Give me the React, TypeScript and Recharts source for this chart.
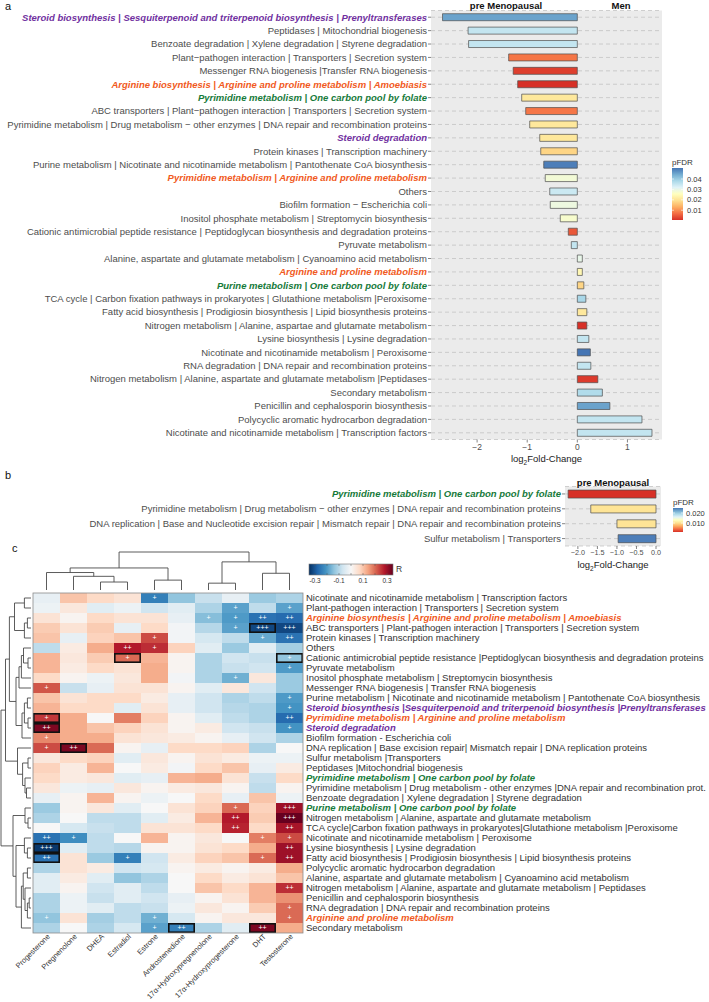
import React from 'react'
import { BarChart, Bar, XAxis, YAxis, CartesianGrid, Cell, ScatterChart, Scatter, Customized } from 'recharts'

const FONT = '"Liberation Sans", Arial, Helvetica, sans-serif'
const GROUP_COLOR: Record<string, string> = { steroid: '#7030a0', arginine: '#f15a22', folate: '#167a3a' }

// ---------- panel a : log2 fold change, pre menopausal vs men
const aPathways = [
  'Steroid biosynthesis | Sesquiterpenoid and triterpenoid biosynthesis | Prenyltransferases',
  'Peptidases | Mitochondrial biogenesis',
  'Benzoate degradation | Xylene degradation | Styrene degradation',
  'Plant−pathogen interaction | Transporters | Secretion system',
  'Messenger RNA biogenesis |Transfer RNA biogenesis',
  'Arginine biosynthesis | Arginine and proline metabolism | Amoebiasis',
  'Pyrimidine metabolism | One carbon pool by folate',
  'ABC transporters | Plant−pathogen interaction | Transporters | Secretion system',
  'Pyrimidine metabolism | Drug metabolism − other enzymes | DNA repair and recombination proteins',
  'Steroid degradation',
  'Protein kinases | Transcription machinery',
  'Purine metabolism | Nicotinate and nicotinamide metabolism | Pantothenate CoA biosynthesis',
  'Pyrimidine metabolism | Arginine and proline metabolism',
  'Others',
  'Biofilm formation − Escherichia coli',
  'Inositol phosphate metabolism | Streptomycin biosynthesis',
  'Cationic antimicrobial peptide resistance | Peptidoglycan biosynthesis and degradation proteins',
  'Pyruvate metabolism',
  'Alanine, aspartate and glutamate metabolism | Cyanoamino acid metabolism',
  'Arginine and proline metabolism',
  'Purine metabolism | One carbon pool by folate',
  'TCA cycle | Carbon fixation pathways in prokaryotes | Glutathione metabolism |Peroxisome',
  'Fatty acid biosynthesis | Prodigiosin biosynthesis | Lipid biosynthesis proteins',
  'Nitrogen metabolism | Alanine, aspartae and glutamate metabolism',
  'Lysine biosynthesis | Lysine degradation',
  'Nicotinate and nicotinamide metabolism | Peroxisome',
  'RNA degradation | DNA repair and recombination proteins',
  'Nitrogen metabolism | Alanine, aspartate and glutamate metabolism |Peptidases',
  'Secondary metabolism',
  'Penicillin and cephalosporin biosynthesis',
  'Polycyclic aromatic hydrocarbon degradation',
  'Nicotinate and nicotinamide metabolism | Transcription factors',
]
const aGroups = ['steroid', '', '', '', '', 'arginine', 'folate', '', '', 'steroid', '', '', 'arginine', '', '', '', '', '', '', 'arginine', 'folate', '', '', '', '', '', '', '', '', '', '', '']
const aLog2FC = [-2.69, -2.18, -2.17, -1.37, -1.28, -1.19, -1.11, -1.03, -0.95, -0.75, -0.73, -0.67, -0.64, -0.55, -0.54, -0.34, -0.18, -0.12, 0.1, 0.1, 0.13, 0.17, 0.19, 0.19, 0.23, 0.26, 0.27, 0.41, 0.5, 0.65, 1.29, 1.49]
const aPFDR = [0.045, 0.035, 0.035, 0.008, 0.0025, 0.001, 0.021, 0.008, 0.021, 0.021, 0.018, 0.049, 0.028, 0.034, 0.029, 0.027, 0.005, 0.035, 0.03, 0.024, 0.018, 0.038, 0.021, 0.001, 0.035, 0.05, 0.035, 0.002, 0.037, 0.045, 0.035, 0.035]
const aTicks = [-2, -1, 0, 1]
const aLegendTicks = [0.01, 0.02, 0.03, 0.04]

// ---------- panel b
const bPathways = [
  'Pyrimidine metabolism | One carbon pool by folate',
  'Pyrimidine metabolism | Drug metabolism − other enzymes | DNA repair and recombination proteins',
  'DNA replication | Base and Nucleotide excision repair | Mismatch repair | DNA repair and recombination proteins',
  'Sulfur metabolism | Transporters',
]
const bGroups = ['folate', '', '', '']
const bLog2FC = [-2.25, -1.67, -1.0, -0.97]
const bPFDR = [0.001, 0.0104, 0.0104, 0.0245]
const bTicks = [-2, -1.5, -1, -0.5, 0]
const bLegendTicks = [0.01, 0.02]

// ---------- panel c : correlation heatmap
const hormones = ['Progesterone', 'Pregnenolone', 'DHEA', 'Estradiol', 'Estrone', 'Androstenedione', '17α-Hydroxypregnenolone', '17α-Hydroxyprogesterone', 'DHT', 'Testosterone']
const hmRows = [
  'Nicotinate and nicotinamide metabolism | Transcription factors',
  'Plant-pathogen interaction | Transporters | Secretion system',
  'Arginine biosynthesis | Arginine and proline metabolism | Amoebiasis',
  'ABC transporters | Plant-pathogen interaction | Transporters | Secretion system',
  'Protein kinases | Transcription machinery',
  'Others',
  'Cationic antimicrobial peptide resistance |Peptidoglycan biosynthesis and degradation proteins',
  'Pyruvate metabolism',
  'Inositol phosphate metabolism | Streptomycin biosynthesis',
  'Messenger RNA biogenesis | Transfer RNA biogenesis',
  'Purine metabolism | Nicotinate and nicotinamide metabolism | Pantothenate CoA biosynthesis',
  'Steroid biosynthesis |Sesquiterpenoid and triterpenoid biosynthesis |Prenyltransferases',
  'Pyrimidine metabolism | Arginine and proline metabolism',
  'Steroid degradation',
  'Biofilm formation - Escherichia coli',
  'DNA replication | Base excision repair| Mismatch repair | DNA replication proteins',
  'Sulfur metabolism |Transporters',
  'Peptidases |Mitochondrial biogenesis',
  'Pyrimidine metabolism | One carbon pool by folate',
  'Pyrimidine metabolism | Drug metabolism - other enzymes |DNA repair and recombination prot.',
  'Benzoate degradation | Xylene degradation | Styrene degradation',
  'Purine metabolism | One carbon pool by folate',
  'Nitrogen metabolism | Alanine, aspartate and glutamate metabolism',
  'TCA cycle|Carbon fixation pathways in prokaryotes|Glutathione metabolism |Peroxisome',
  'Nicotinate and nicotinamide metabolism | Peroxisome',
  'Lysine biosynthesis | Lysine degradation',
  'Fatty acid biosynthesis | Prodigiosin biosynthesis | Lipid biosynthesis proteins',
  'Polycyclic aromatic hydrocarbon degradation',
  'Alanine, aspartate and glutamate metabolism | Cyanoamino acid metabolism',
  'Nitrogen metabolism | Alanine, aspartate and glutamate metabolism | Peptidases',
  'Penicillin and cephalosporin biosynthesis',
  'RNA degradation | DNA repair and recombination proteins',
  'Arginine and proline metabolism',
  'Secondary metabolism',
]
const hmGroups = ['', '', 'arginine', '', '', '', '', '', '', '', '', 'steroid', 'arginine', 'steroid', '', '', '', '', 'folate', '', '', 'folate', '', '', '', '', '', '', '', '', '', '', 'arginine', '']
// R per row, columns in hormones order
const hmR = [
  [-0.03, 0.1, 0.07, 0.05, -0.24, -0.14, -0.08, -0.03, -0.13, -0.11],
  [-0.02, 0.04, -0.04, -0.02, -0.07, -0.04, -0.11, -0.19, -0.09, -0.19],
  [0.05, 0.01, 0.07, 0.05, 0.05, -0.03, -0.15, -0.2, -0.26, -0.27],
  [0.09, 0.05, 0.09, -0.03, 0.07, -0.01, -0.1, -0.19, -0.32, -0.32],
  [0.1, -0.03, 0.08, 0.1, 0.23, -0.01, -0.06, -0.09, -0.18, -0.26],
  [-0.09, 0.03, 0.13, 0.28, 0.26, 0.08, -0.04, -0.13, -0.04, -0.12],
  [0.12, 0.04, 0.09, 0.2, 0.12, 0.01, -0.11, -0.07, -0.08, -0.14],
  [0.12, 0.03, 0.07, 0.05, 0.13, 0.01, -0.11, -0.08, -0.07, -0.2],
  [0.07, 0.01, -0.02, 0.04, 0.13, -0.01, -0.11, -0.17, 0.04, -0.13],
  [0.22, -0.08, -0.03, 0.05, 0.05, 0.01, -0.04, 0.04, -0.07, -0.13],
  [0.1, 0.05, 0.07, 0.07, 0.03, -0.03, -0.07, -0.11, -0.09, -0.2],
  [0.12, 0.07, 0.07, -0.04, 0.05, -0.03, -0.07, -0.1, -0.11, -0.21],
  [0.25, 0.13, 0.0, 0.18, 0.08, 0.01, -0.04, -0.09, -0.11, -0.27],
  [0.33, 0.13, 0.1, 0.08, 0.05, 0.01, 0.03, -0.07, -0.08, -0.21],
  [0.17, 0.13, 0.13, 0.05, 0.04, 0.03, 0.01, -0.03, -0.07, -0.11],
  [0.23, 0.33, 0.2, 0.01, -0.03, 0.07, 0.07, 0.08, -0.11, 0.0],
  [0.04, 0.07, 0.08, -0.04, 0.04, 0.01, 0.05, 0.03, -0.02, -0.02],
  [0.08, 0.03, 0.12, 0.0, 0.03, -0.01, 0.07, 0.1, -0.03, 0.03],
  [0.07, 0.03, 0.04, -0.04, -0.03, 0.12, 0.13, 0.05, -0.08, 0.07],
  [0.04, -0.02, -0.03, 0.04, 0.01, 0.03, 0.04, 0.01, -0.09, 0.01],
  [-0.03, 0.01, 0.12, 0.01, -0.02, 0.0, 0.07, -0.03, 0.1, -0.02],
  [-0.13, 0.01, 0.04, -0.04, 0.0, 0.05, 0.08, 0.2, 0.08, 0.3],
  [-0.11, 0.0, -0.09, -0.09, -0.04, 0.03, 0.12, 0.28, 0.09, 0.37],
  [0.0, -0.06, -0.08, -0.09, 0.05, 0.05, 0.07, 0.27, 0.07, 0.29],
  [-0.26, -0.22, -0.09, 0.0, 0.12, 0.01, 0.04, 0.0, 0.18, 0.23],
  [-0.34, -0.04, -0.09, -0.1, 0.01, 0.01, 0.05, 0.07, 0.13, 0.3],
  [-0.26, 0.05, -0.13, -0.24, -0.07, 0.03, 0.08, 0.1, 0.2, 0.3],
  [-0.11, 0.05, 0.03, -0.07, -0.06, 0.01, 0.03, 0.01, 0.03, 0.13],
  [-0.04, 0.03, -0.04, -0.14, -0.11, 0.0, 0.07, 0.03, 0.05, 0.1],
  [-0.04, 0.01, -0.07, -0.04, -0.09, 0.0, 0.1, 0.07, 0.12, 0.26],
  [-0.11, -0.02, -0.08, -0.04, -0.07, -0.03, 0.01, 0.05, 0.12, 0.16],
  [-0.11, -0.02, -0.04, -0.09, -0.08, -0.02, 0.04, 0.01, 0.09, 0.2],
  [-0.14, 0.05, -0.12, -0.09, -0.17, -0.06, 0.01, 0.04, 0.04, 0.2],
  [-0.11, 0.0, -0.11, -0.06, -0.19, -0.24, -0.11, -0.04, 0.33, 0.13],
]
// [row, column, mark], 1-based
const hmSignif: [number, number, string][] = [
  [1, 5, '+'], [2, 8, '+'], [2, 10, '+'], [3, 7, '+'], [3, 8, '+'], [3, 9, '++'], [3, 10, '++'],
  [4, 8, '+'], [4, 9, '+++'], [4, 10, '+++'], [5, 5, '+'], [5, 9, '+'], [5, 10, '++'],
  [6, 4, '++'], [6, 5, '+'], [7, 4, '+'], [7, 10, '+'], [8, 10, '+'], [9, 8, '+'], [10, 1, '+'],
  [11, 10, '+'], [12, 10, '+'], [13, 1, '+'], [13, 10, '++'], [14, 1, '++'], [14, 10, '+'],
  [15, 1, '+'], [16, 1, '+'], [16, 2, '++'], [22, 8, '+'], [22, 10, '+++'], [23, 8, '++'], [23, 10, '+++'],
  [24, 8, '++'], [24, 10, '++'], [25, 1, '++'], [25, 2, '+'], [25, 9, '+'], [25, 10, '+'],
  [26, 1, '+++'], [26, 10, '++'], [27, 1, '++'], [27, 4, '+'], [27, 9, '+'], [27, 10, '++'],
  [30, 10, '++'], [32, 10, '+'], [33, 1, '+'], [33, 5, '+'], [33, 10, '+'],
  [34, 5, '+'], [34, 6, '++'], [34, 9, '++'],
]
const hmBoxed: [number, number][] = [[4, 9], [7, 4], [7, 10], [13, 1], [14, 1], [16, 2], [26, 1], [27, 1], [34, 6], [34, 9]]
// hclust style merges: negative = leaf, positive = earlier merge; third value = height (0..1)
const colMerge: [number, number, number][] = [
  [-7, -8, 0.18], [-3, -4, 0.21], [-5, -6, 0.26], [-2, 2, 0.36], [-9, -10, 0.44],
  [-1, 4, 0.46], [6, 3, 0.58], [1, 5, 0.74], [7, 8, 1.0],
]
const rowMerge: [number, number, number][] = [
  [-1, -2, 0.22], [-3, -4, 0.12], [2, -5, 0.22], [1, 3, 0.55],
  [-7, -8, 0.1], [-6, 5, 0.25], [6, -9, 0.32], [7, -10, 0.4],
  [-11, -12, 0.12], [-13, -14, 0.1], [9, 10, 0.22], [11, -15, 0.3], [8, 12, 0.5],
  [-17, -18, 0.1], [-20, -21, 0.15], [-19, 15, 0.2], [14, 16, 0.28], [-16, 17, 0.45],
  [4, 13, 0.72], [19, 18, 0.85],
  [-23, -24, 0.1], [-22, 21, 0.2], [-26, -27, 0.12], [-25, 23, 0.22],
  [-28, -29, 0.12], [-31, -32, 0.06], [26, -33, 0.12], [-30, 27, 0.2], [25, 28, 0.26], [29, -34, 0.32],
  [24, 30, 0.5], [22, 31, 0.6], [20, 32, 1.0],
]
const rLegendTicks = [-0.3, -0.1, 0.1, 0.3]

// ---------- colour helpers
const RDYLBU = ['#d73027', '#f46d43', '#fdae61', '#fee090', '#ffffbf', '#e0f3f8', '#abd9e9', '#74add1', '#4575b4']
const RDBU = ['#053061', '#2166ac', '#4393c3', '#92c5de', '#d1e5f0', '#f7f7f7', '#fddbc7', '#f4a582', '#d6604d', '#b2182b', '#67001f']

function lerpHex(a: string, b: string, t: number) {
  const pa = [1, 3, 5].map(i => parseInt(a.slice(i, i + 2), 16))
  const pb = [1, 3, 5].map(i => parseInt(b.slice(i, i + 2), 16))
  return 'rgb(' + pa.map((v, k) => Math.round(v + (pb[k] - v) * t)).join(',') + ')'
}
function ramp(colors: string[], t: number) {
  const c = Math.max(0, Math.min(1, t))
  const x = c * (colors.length - 1)
  const i = Math.min(Math.floor(x), colors.length - 2)
  return lerpHex(colors[i], colors[i + 1], x - i)
}
const R_LIM = 0.35
const rColor = (r: number) => ramp(RDBU, (r + R_LIM) / (2 * R_LIM))
const minus = (v: number, digits = 0) => (v < 0 ? '−' : '') + Math.abs(v).toFixed(digits)

const aData = aPathways.map((name, i) => ({ name, fc: aLog2FC[i], color: ramp(RDYLBU, (aPFDR[i] - 0.001) / 0.049) }))
const bData = bPathways.map((name, i) => ({ name, fc: bLog2FC[i], color: ramp(RDYLBU, (bPFDR[i] - 0.001) / 0.024) }))

const sigLookup: Record<string, string> = {}
hmSignif.forEach(([r, c, s]) => { sigLookup[`${r - 1}-${c - 1}`] = s })
const hmCells = hmRows.flatMap((_, ri) => hormones.map((_, ci) => ({ row: ri, col: ci, r: hmR[ri][ci], sig: sigLookup[`${ri}-${ci}`] || '' })))
const hmBoxes = hmBoxed.map(([r, c]) => ({ row: r - 1, col: c - 1 }))

// heatmap geometry (chart-local)
const HM_LEFT = 33
const HM_TOP = 53
const CW = 27
const CH = 10

function labelStyle(group: string, base: string) {
  const c = GROUP_COLOR[group]
  return c ? { fill: c, fontWeight: 700, fontStyle: 'italic' as const } : { fill: base }
}

const makeCategoryTick = (names: string[], groups: string[]) => (props: any) => {
  const { x, y, payload } = props
  const i = names.indexOf(payload.value)
  return (
    <text x={x} y={y} dy="0.35em" textAnchor="end" fontSize={9.5} fontFamily={FONT} {...labelStyle(groups[i], '#4d4d4d')}>
      {payload.value}
    </text>
  )
}
const ATick = makeCategoryTick(aPathways, aGroups)
const BTick = makeCategoryTick(bPathways, bGroups)

const HmRowTick = (props: any) => {
  const { x, y, payload } = props
  const i = payload.value
  return (
    <text x={x} y={y} dy="0.36em" textAnchor="start" fontSize={9.5} fontFamily={FONT} {...labelStyle(hmGroups[i], '#333')}>
      {hmRows[i]}
    </text>
  )
}
const HmColTick = (props: any) => {
  const { x, y, payload } = props
  return (
    <text transform={`translate(${x + 4},${y}) rotate(-45)`} textAnchor="end" fontSize={7.5} fontFamily={FONT} fill="#333">
      {hormones[payload.value]}
    </text>
  )
}

const CellShape = (props: any) => {
  const { cx, cy, payload } = props
  return (
    <g>
      <rect x={cx - CW / 2} y={cy - CH / 2} width={CW} height={CH} fill={rColor(payload.r)} />
      {payload.sig && (
        <text x={cx} y={cy} dy="0.33em" textAnchor="middle" fontSize={7} fontFamily={FONT} fill="#fff">{payload.sig}</text>
      )}
    </g>
  )
}
const BoxShape = (props: any) => {
  const { cx, cy } = props
  return <rect x={cx - CW / 2 + 0.8} y={cy - CH / 2 + 0.8} width={CW - 1.6} height={CH - 1.6} fill="none" stroke="#111" strokeWidth={1.6} />
}

function hclustSegments(merge: [number, number, number][], leafPos: (i: number) => number) {
  const pos: number[] = []
  const hts: number[] = []
  const segs: number[][] = []
  merge.forEach(([a, b, h], k) => {
    const pa = a < 0 ? leafPos(-a - 1) : pos[a - 1]
    const ha = a < 0 ? 0 : hts[a - 1]
    const pb = b < 0 ? leafPos(-b - 1) : pos[b - 1]
    const hb = b < 0 ? 0 : hts[b - 1]
    segs.push([pa, ha, pa, h], [pb, hb, pb, h], [pa, h, pb, h])
    pos[k] = (pa + pb) / 2
    hts[k] = h
  })
  return segs
}

function Dendrograms() {
  const colY = (h: number) => HM_TOP - 3 - h * 38
  const rowX = (h: number) => HM_LEFT - 2 - h * 30
  const colSegs = hclustSegments(colMerge, i => HM_LEFT + (i + 0.5) * CW)
  const rowSegs = hclustSegments(rowMerge, i => HM_TOP + (i + 0.5) * CH)
  return (
    <g stroke="#4a4a4a" strokeWidth={0.9} fill="none">
      {colSegs.map((s, i) => <line key={'c' + i} x1={s[0]} y1={colY(s[1])} x2={s[2]} y2={colY(s[3])} />)}
      {rowSegs.map((s, i) => <line key={'r' + i} x1={rowX(s[1])} y1={s[0]} x2={rowX(s[3])} y2={s[2]} />)}
    </g>
  )
}

function Overlay() {
  const aBar = { x: 672, y: 168, w: 11, h: 52, lo: 0.0006, hi: 0.0506 }
  const bBar = { x: 673, y: 508, w: 10, h: 24, lo: 0.001, hi: 0.025 }
  const rBar = { x: 309, y: 564, w: 84, h: 11 }
  const rx = (v: number) => rBar.x + ((v + R_LIM) / (2 * R_LIM)) * rBar.w
  return (
    <svg width={709} height={1002} style={{ position: 'absolute', left: 0, top: 0, pointerEvents: 'none' }} fontFamily={FONT}>
      <defs>
        <linearGradient id="gYlBu" x1="0" y1="1" x2="0" y2="0">
          {RDYLBU.map((c, i) => <stop key={i} offset={i / (RDYLBU.length - 1)} stopColor={c} />)}
        </linearGradient>
        <linearGradient id="gRdBu" x1="0" y1="0" x2="1" y2="0">
          {RDBU.map((c, i) => <stop key={i} offset={i / (RDBU.length - 1)} stopColor={c} />)}
        </linearGradient>
      </defs>
      {/* panel a */}
      <text x={5} y={10} fontSize={11} fill="#111">a</text>
      <text x={506} y={9} fontSize={9.5} fontWeight={700} textAnchor="middle" fill="#111">pre Menopausal</text>
      <text x={621} y={9} fontSize={9.5} fontWeight={700} textAnchor="middle" fill="#111">Men</text>
      <text x={546.5} y={462} fontSize={9.5} textAnchor="middle" fill="#222">
        log<tspan fontSize={6.5} dy={2.5}>2</tspan><tspan dy={-2.5}>Fold-Change</tspan>
      </text>
      <text x={aBar.x} y={165} fontSize={8} fill="#333">pFDR</text>
      <rect x={aBar.x} y={aBar.y} width={aBar.w} height={aBar.h} fill="url(#gYlBu)" />
      {aLegendTicks.map(v => {
        const y = aBar.y + aBar.h - ((v - aBar.lo) / (aBar.hi - aBar.lo)) * aBar.h
        return (
          <g key={v}>
            <line x1={aBar.x} x2={aBar.x + 2} y1={y} y2={y} stroke="#fff" strokeWidth={0.6} />
            <line x1={aBar.x + aBar.w - 2} x2={aBar.x + aBar.w} y1={y} y2={y} stroke="#fff" strokeWidth={0.6} />
            <text x={aBar.x + aBar.w + 4} y={y} dy="0.35em" fontSize={7.5} fill="#333">{v.toFixed(2)}</text>
          </g>
        )
      })}
      {/* panel b */}
      <text x={5} y={479} fontSize={11} fill="#111">b</text>
      <text x={613} y={485.5} fontSize={9.5} fontWeight={700} textAnchor="middle" fill="#111">pre Menopausal</text>
      <text x={613} y={568} fontSize={9.5} textAnchor="middle" fill="#222">
        log<tspan fontSize={6.5} dy={2.5}>2</tspan><tspan dy={-2.5}>Fold-Change</tspan>
      </text>
      <text x={bBar.x} y={505} fontSize={8} fill="#333">pFDR</text>
      <rect x={bBar.x} y={bBar.y} width={bBar.w} height={bBar.h} fill="url(#gYlBu)" />
      {bLegendTicks.map(v => {
        const y = bBar.y + bBar.h - ((v - bBar.lo) / (bBar.hi - bBar.lo)) * bBar.h
        return (
          <g key={v}>
            <line x1={bBar.x} x2={bBar.x + 2} y1={y} y2={y} stroke="#fff" strokeWidth={0.6} />
            <line x1={bBar.x + bBar.w - 2} x2={bBar.x + bBar.w} y1={y} y2={y} stroke="#fff" strokeWidth={0.6} />
            <text x={bBar.x + bBar.w + 3} y={y} dy="0.35em" fontSize={7.5} fill="#333">{v.toFixed(3)}</text>
          </g>
        )
      })}
      {/* panel c */}
      <text x={12} y={552} fontSize={11} fill="#111">c</text>
      <rect x={rBar.x} y={rBar.y} width={rBar.w} height={rBar.h} fill="url(#gRdBu)" stroke="#777" strokeWidth={0.6} />
      {[-0.3, -0.2, -0.1, 0, 0.1, 0.2, 0.3].map(v => (
        <g key={v}>
          <line x1={rx(v)} x2={rx(v)} y1={rBar.y} y2={rBar.y + 2} stroke="#555" strokeWidth={0.5} />
          <line x1={rx(v)} x2={rx(v)} y1={rBar.y + rBar.h - 2} y2={rBar.y + rBar.h} stroke="#555" strokeWidth={0.5} />
        </g>
      ))}
      {rLegendTicks.map(v => (
        <text key={v} x={rx(v)} y={583} fontSize={6.5} textAnchor="middle" fill="#333">{v < 0 ? '-' : ''}{Math.abs(v).toFixed(1)}</text>
      ))}
      <text x={rBar.x + rBar.w + 3} y={572} fontSize={8.5} fill="#333">R</text>
      <rect x={HM_LEFT} y={540 + HM_TOP} width={CW * 10} height={CH * 34} fill="none" stroke="#8c8c8c" strokeWidth={0.8} />
    </svg>
  )
}

export default function App() {
  const rowTicks = hmRows.map((_, i) => i)
  const colTicks = hormones.map((_, i) => i)
  return (
    <div style={{ position: 'absolute', left: 0, top: 0, width: 709, height: 1002, background: '#fff', fontFamily: FONT, overflow: 'hidden' }}>
      <div style={{ position: 'absolute', left: 0, top: 0 }}>
        <BarChart layout="vertical" width={709} height={470} data={aData} margin={{ top: 10.5, right: 47, bottom: 0, left: 0 }} barCategoryGap="24%">
          <CartesianGrid vertical={false} fill="#ebebeb" fillOpacity={1} stroke="#bdbdbd" strokeDasharray="4 3" strokeWidth={0.7} />
          <XAxis
            type="number"
            domain={[-2.92, 1.69]}
            ticks={aTicks}
            allowDataOverflow
            interval={0}
            height={30.5}
            tickSize={3}
            tickMargin={1}
            axisLine={false}
            tickLine={{ stroke: '#333', strokeWidth: 0.6 }}
            tick={{ fontSize: 8.5, fill: '#4d4d4d', fontFamily: FONT }}
            tickFormatter={(v: number) => minus(v)}
          />
          <YAxis
            type="category"
            dataKey="name"
            width={431}
            interval={0}
            axisLine={false}
            tickSize={3}
            tickMargin={1}
            tickLine={{ stroke: '#333', strokeWidth: 0.6 }}
            tick={ATick}
          />
          <Bar dataKey="fc" isAnimationActive={false} stroke="#4d4d4d" strokeWidth={0.7}>
            {aData.map((d, i) => <Cell key={i} fill={d.color} />)}
          </Bar>
        </BarChart>
      </div>
      <div style={{ position: 'absolute', left: 0, top: 470 }}>
        <BarChart layout="vertical" width={709} height={90} data={bData} margin={{ top: 16.5, right: 48, bottom: 0, left: 0 }} barCategoryGap="24%">
          <CartesianGrid vertical={false} fill="#ebebeb" fillOpacity={1} stroke="#bdbdbd" strokeDasharray="4 3" strokeWidth={0.7} />
          <XAxis
            type="number"
            domain={[-2.33, 0.128]}
            ticks={bTicks}
            allowDataOverflow
            interval={0}
            height={14}
            tickSize={3}
            tickMargin={1}
            axisLine={false}
            tickLine={{ stroke: '#333', strokeWidth: 0.6 }}
            tick={{ fontSize: 7.2, fill: '#4d4d4d', fontFamily: FONT }}
            tickFormatter={(v: number) => minus(v, 1)}
          />
          <YAxis
            type="category"
            dataKey="name"
            width={565}
            interval={0}
            axisLine={false}
            tickSize={3}
            tickMargin={1}
            tickLine={{ stroke: '#333', strokeWidth: 0.6 }}
            tick={BTick}
          />
          <Bar dataKey="fc" isAnimationActive={false} stroke="#4d4d4d" strokeWidth={0.7}>
            {bData.map((d, i) => <Cell key={i} fill={d.color} />)}
          </Bar>
        </BarChart>
      </div>
      <div style={{ position: 'absolute', left: 0, top: 540 }}>
        <ScatterChart width={709} height={462} margin={{ top: HM_TOP, right: 0, bottom: 0, left: HM_LEFT }}>
          <XAxis
            type="number"
            dataKey="col"
            domain={[-0.5, 9.5]}
            ticks={colTicks}
            interval={0}
            height={69}
            tickSize={0}
            tickMargin={4}
            axisLine={false}
            tickLine={false}
            tick={HmColTick}
          />
          <YAxis
            type="number"
            dataKey="row"
            domain={[-0.5, 33.5]}
            reversed
            orientation="right"
            ticks={rowTicks}
            interval={0}
            width={406}
            tickSize={0}
            tickMargin={3}
            axisLine={false}
            tickLine={false}
            tick={HmRowTick}
          />
          <Scatter data={hmCells} shape={CellShape} isAnimationActive={false} />
          <Scatter data={hmBoxes} shape={BoxShape} isAnimationActive={false} />
          <Customized component={<Dendrograms />} />
        </ScatterChart>
      </div>
      <Overlay />
    </div>
  )
}
